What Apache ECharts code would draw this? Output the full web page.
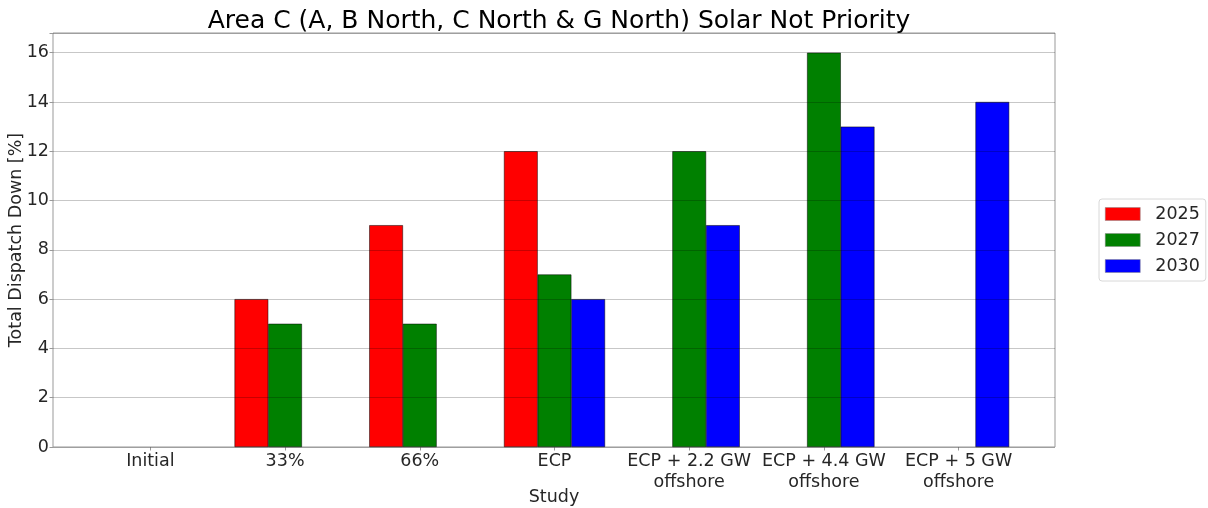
<!DOCTYPE html>
<html>
<head>
<meta charset="utf-8">
<script src="https://cdn.jsdelivr.net/npm/echarts@6/dist/echarts.min.js"></script>
<style>
html,body{margin:0;padding:0;background:#fff;}
#chart{width:1208px;height:508px;}
</style>
</head>
<body>
<div id="chart"></div>
<script>
const categories = ['Initial', '33%', '66%', 'ECP', 'ECP + 2.2 GW\noffshore', 'ECP + 4.4 GW\noffshore', 'ECP + 5 GW\noffshore'];
const seriesNames = ['2025', '2027', '2030'];
const values2025 = [null, 6, 9, 12, null, null, null];
const values2027 = [null, 5, 5, 7, 12, 16, null];
const values2030 = [null, null, null, 6, 9, 13, 14];
const colors = ['#ff0000', '#008000', '#0000ff'];
const yTicks = [0, 2, 4, 6, 8, 10, 12, 14, 16];

const font = 'DejaVu Sans';
const fs = 17.5;
const chart = echarts.init(document.getElementById('chart'), null, {renderer: 'canvas'});
const allValues = [values2025, values2027, values2030];

chart.setOption({
  animation: false,
  backgroundColor: '#fff',
  title: {
    text: 'Area C (A, B North, C North & G North) Solar Not Priority',
    left: 554, top: 4, textAlign: 'center',
    textStyle: {fontFamily: font, fontSize: 25, fontWeight: 'normal', color: '#000'}
  },
  legend: {
    data: seriesNames.map(n => ({name: n, icon: 'rect'})),
    orient: 'vertical',
    left: 1099, top: 199,
    itemWidth: 35, itemHeight: 13, itemGap: 8,
    padding: [6, 6, 6, 6],
    borderColor: '#d8d8d8', borderWidth: 1, borderRadius: 3,
    textStyle: {fontFamily: font, fontSize: fs, color: '#262626', padding: [0, 0, 0, 10]},
    itemStyle: {borderColor: '#888', borderWidth: 0.5}
  },
  grid: [
    {left: 53, right: 153, top: 33, bottom: 61, outerBoundsMode: 'none', containLabel: false,
     show: true, borderColor: '#999', borderWidth: 1, backgroundColor: 'transparent'},
    {left: 83, right: 182, top: 33, bottom: 61, outerBoundsMode: 'none', containLabel: false}
  ],
  xAxis: [
    {type: 'value', gridIndex: 0, min: 0, max: 1, show: true,
     axisLine: {show: false}, axisTick: {show: false}, axisLabel: {show: false}, splitLine: {show: false},
     name: 'Study', nameLocation: 'middle', nameGap: 41, nameMoveOverlap: false,
     nameTextStyle: {fontFamily: font, fontSize: fs, color: '#262626'}},
    {type: 'category', gridIndex: 1, data: categories,
     axisLine: {show: false},
     axisTick: {show: true, alignWithLabel: true, length: 3.5, lineStyle: {color: '#999'}},
     axisLabel: {fontFamily: font, fontSize: fs, color: '#262626', margin: 4, lineHeight: 21, interval: 0},
     splitLine: {show: false}}
  ],
  yAxis: [
    {type: 'value', gridIndex: 0, min: 0, max: 16.8, interval: 2, z: 10,
     axisLine: {show: false},
     axisTick: {show: true, length: 3.5, lineStyle: {color: '#999'}},
     axisLabel: {fontFamily: font, fontSize: fs, color: '#262626', margin: 4,
       formatter: v => (yTicks.indexOf(v) >= 0 ? String(v) : '')},
     splitLine: {show: true, lineStyle: {color: 'rgba(0,0,0,0.22)', width: 1}},
     name: 'Total Dispatch Down [%]', nameLocation: 'middle', nameGap: 28, nameMoveOverlap: false,
     nameTextStyle: {fontFamily: font, fontSize: fs, color: '#262626'}},
    {type: 'value', gridIndex: 1, min: 0, max: 16.8, interval: 2, show: false, splitLine: {show: false}}
  ],
  series: seriesNames.map((n, i) => ({
    name: n, type: 'bar', xAxisIndex: 1, yAxisIndex: 1,
    data: allValues[i],
    barWidth: '25%', barGap: '0%',
    itemStyle: {color: colors[i], borderColor: '#000', borderWidth: 0.5}
  }))
});
</script>
</body>
</html>
